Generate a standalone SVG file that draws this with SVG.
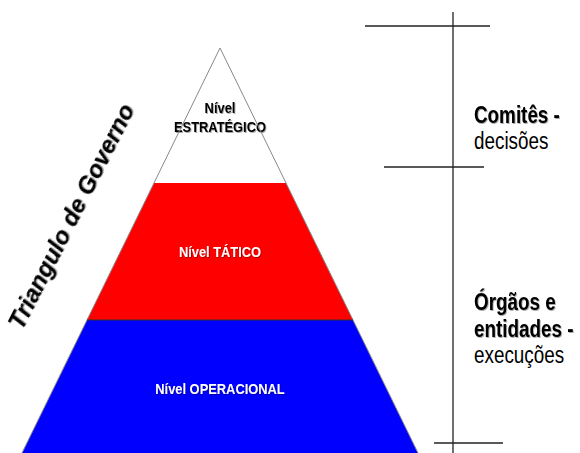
<svg xmlns="http://www.w3.org/2000/svg" width="580" height="453" viewBox="0 0 580 453">
<defs>
<filter id="sh" x="-10%" y="-30%" width="130%" height="160%">
<feDropShadow dx="1" dy="1" stdDeviation="0.4" flood-color="#000" flood-opacity="0.35"/>
</filter>
</defs>
<style>
.lvl{font-family:"Liberation Sans",Arial,sans-serif;font-weight:bold;font-size:14px;text-anchor:middle;filter:url(#sh)}
.side{font-family:"Liberation Sans",Arial,sans-serif;font-size:23px;fill:#000}
.b{font-weight:bold;filter:url(#sh)}
.rule{stroke:#222;stroke-width:1.3;fill:none}
</style>
<rect width="580" height="453" fill="#fff"/>
<g id="nivel-estrategico">
<polygon points="220,48 154,183 286,183" fill="#fff"/>
<text class="lvl" fill="#000" transform="translate(220,113) scale(0.92,1)">Nível</text>
<text class="lvl" fill="#000" transform="translate(220,132) scale(0.92,1)">ESTRATÉGICO</text>
</g>
<g id="nivel-tatico">
<polygon points="154,183 286,183 353,320 87,320" fill="#ff0000"/>
<text class="lvl" fill="#fff" transform="translate(220,257) scale(0.92,1)">Nível TÁTICO</text>
</g>
<g id="nivel-operacional">
<polygon points="87,320 353,320 418,453 22,453" fill="#0000ff"/>
<text class="lvl" fill="#fff" transform="translate(220,394) scale(0.92,1)">Nível OPERACIONAL</text>
</g>
<g id="contorno" fill="none">
<polyline points="22,453 220,48 418,453" stroke="#888" stroke-width="1"/>
<line x1="87" y1="320" x2="353" y2="320" stroke="#333" stroke-width="1"/>
</g>
<g id="titulo">
<text transform="translate(22,331) rotate(-63)" font-family="'Liberation Sans',Arial,sans-serif" font-weight="bold" font-style="italic" font-size="24" fill="#000" filter="url(#sh)">Triangulo de Governo</text>
</g>
<g id="connectors">
<line class="rule" x1="453" y1="12" x2="453" y2="453"/>
<line class="rule" x1="365" y1="26" x2="490" y2="26"/>
<line class="rule" x1="384" y1="167" x2="484" y2="167"/>
<line class="rule" x1="434" y1="443" x2="503" y2="443"/>
</g>
<g id="comites">
<text class="side b" transform="translate(474,123) scale(0.82,1)">Comitês -</text>
<text class="side" transform="translate(474,149) scale(0.82,1)">decisões</text>
</g>
<g id="orgaos">
<text class="side b" transform="translate(474,310) scale(0.82,1)">Órgãos e</text>
<text class="side b" transform="translate(474,337) scale(0.82,1)">entidades -</text>
<text class="side" transform="translate(474,363) scale(0.82,1)">execuções</text>
</g>
</svg>
